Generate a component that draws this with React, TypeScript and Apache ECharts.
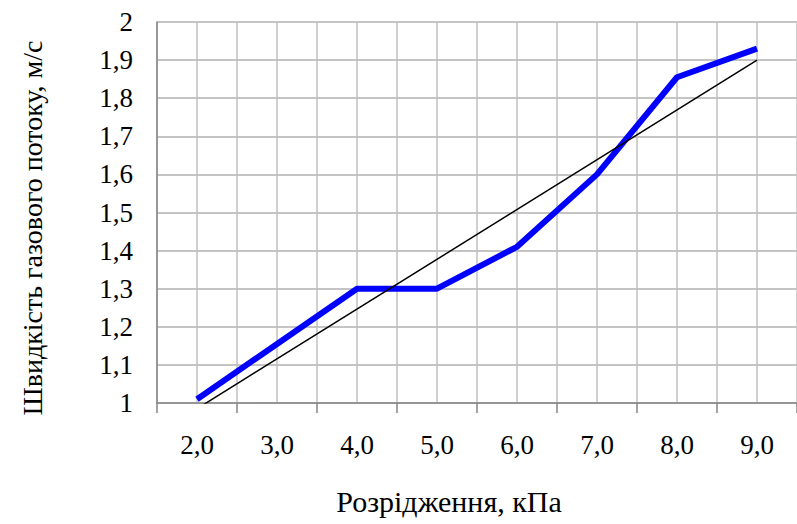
import React, { useEffect, useRef } from "react";
import * as echarts from "echarts";

const categories = ["2,0", "3,0", "4,0", "5,0", "6,0", "7,0", "8,0", "9,0"];
const speed = [1.01, 1.155, 1.3, 1.3, 1.41, 1.6, 1.855, 1.93];
const trendStart = 0.985;
const trendEnd = 1.9;
const halfSteps = ["", "", "", "", "", "", "", "", "", "", "", "", "", "", "", ""];
const xTitle = "Розрідження, кПа";
const yTitle = "Швидкість газового потоку, м/с";

const FONT = "'Liberation Serif', 'Times New Roman', serif";

export default function App() {
  const ref = useRef<HTMLDivElement>(null);
  useEffect(() => {
    if (!ref.current) return;
    const chart = echarts.init(ref.current, undefined, { renderer: "svg" });
    const trendData = [
      [0, trendStart],
      [categories.length - 1, trendEnd],
    ];
    chart.setOption({
      animation: false,
      backgroundColor: "#ffffff",
      grid: { left: 157, top: 22, width: 644, height: 381, containLabel: false },
      xAxis: [
        {
          type: "category",
          data: categories,
          boundaryGap: true,
          axisLine: { show: true, lineStyle: { color: "#868686", width: 1.5 } },
          axisTick: { show: true, length: 10, lineStyle: { color: "#868686", width: 1.5 } },
          axisLabel: { color: "#000", fontFamily: FONT, fontSize: 27, margin: 28 },
          splitLine: { show: false },
        },
        {
          type: "category",
          data: halfSteps,
          position: "bottom",
          boundaryGap: true,
          axisLine: { show: false },
          axisTick: { show: false },
          axisLabel: { show: false },
          splitLine: { show: true, lineStyle: { color: "#c0c0c0", width: 1.5 } },
        },
      ],
      yAxis: {
        type: "value",
        min: 1,
        max: 2,
        interval: 0.1,
        axisLine: { show: true, lineStyle: { color: "#868686", width: 1.5 } },
        axisTick: { show: false },
        axisLabel: {
          color: "#000",
          fontFamily: FONT,
          fontSize: 27,
          margin: 24,
          formatter: (v: number) => String(Math.round(v * 10) / 10).replace(".", ","),
        },
        splitLine: { show: true, lineStyle: { color: "#b0b0b0", width: 1.5 } },
      },
      series: [
        {
          type: "line",
          data: speed,
          xAxisIndex: 0,
          symbol: "none",
          lineStyle: { color: "#0000ff", width: 6 },
          z: 3,
        },
        {
          type: "line",
          data: trendData,
          xAxisIndex: 0,
          symbol: "none",
          clip: true,
          lineStyle: { color: "#000000", width: 1.5 },
          z: 4,
        },
      ],
      graphic: [
        {
          type: "text",
          x: 449,
          y: 501,
          style: {
            text: xTitle,
            fontFamily: FONT,
            fontSize: 30,
            fill: "#000",
            align: "center",
            verticalAlign: "middle",
          },
        },
        {
          type: "text",
          x: 32,
          y: 228,
          rotation: Math.PI / 2,
          style: {
            text: yTitle,
            fontFamily: FONT,
            fontSize: 28,
            fill: "#000",
            align: "center",
            verticalAlign: "middle",
          },
        },
      ],
    });
    return () => chart.dispose();
  }, []);
  return (
    <div
      ref={ref}
      style={{ position: "fixed", left: 0, top: 0, width: 797, height: 524, overflow: "hidden", background: "#fff" }}
    />
  );
}
